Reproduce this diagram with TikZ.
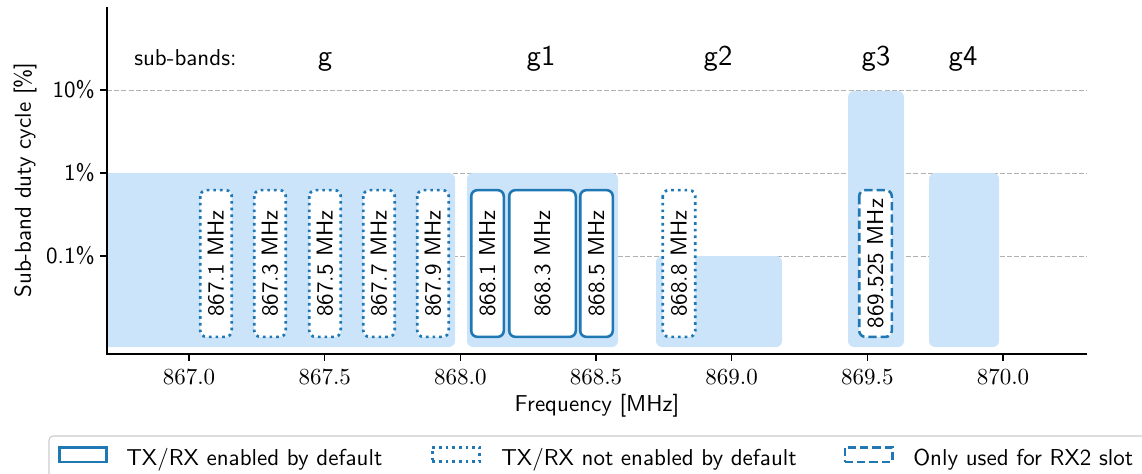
\documentclass[tikz,border=0pt]{standalone}
\usepackage{fontspec}
\newfontfamily\sansten{lmsans10-regular.otf}
\newfontfamily\romanten{lmroman10-regular.otf}
\definecolor{bandblue}{RGB}{204,228,250}
\definecolor{chanblue}{RGB}{31,119,180}
\definecolor{gridgray}{RGB}{176,176,176}
\definecolor{legendgray}{RGB}{204,204,204}
\newcommand\txtfont{\sansten\fontsize{17.25}{20}\selectfont}
\newcommand\numfont{\romanten\fontsize{17.25}{20}\selectfont}
\newcommand\bandfont{\sansten\fontsize{21.5}{25}\selectfont}
\begin{document}
\begin{tikzpicture}[x=0.75pt,y=-0.75pt,
  band/.style={fill=bandblue, rounded corners=4.5pt},
  gridline/.style={draw=gridgray, line width=0.6pt, dash pattern=on 3.8pt off 1.6pt},
  axisline/.style={draw=black, line width=0.8pt},
  chanbox/.style={draw=chanblue, fill=white, rounded corners=4.5pt, rotate=90,
    inner sep=0pt, minimum width=110pt, font=\txtfont},
  solidline/.style={line width=1.9pt},
  dotline/.style={line width=2pt, dash pattern=on 2pt off 3pt},
  dashline/.style={line width=1.9pt, dash pattern=on 6.2pt off 3pt},
  legicon/.style={draw=chanblue, fill=white, inner sep=0pt, minimum width=35.6pt, minimum height=10.9pt},
  ytick/.style={anchor=east, font=\txtfont, inner sep=0pt},
  xtick/.style={anchor=base, font=\numfont, inner sep=0pt},
  bandlabel/.style={anchor=base, font=\bandfont, inner sep=0pt},
  legtext/.style={anchor=base west, font=\txtfont, inner sep=0pt}]
\useasboundingbox (0,0) rectangle (1142,474);

% horizontal grid at 10%, 1% and 0.1%
\foreach \gy in {90,173,256} \draw[gridline] (107,\gy) -- (1087,\gy);

% sub-band duty-cycle bars
\begin{scope}
  \clip (107,0) rectangle (1087,354);
  \fill[band] (80,173) rectangle (455,347);
\end{scope}
\fill[band] (467,173) rectangle (618,347);
\fill[band] (656,256) rectangle (782,347);
\fill[band] (848,91) rectangle (904,347);
\fill[band] (929,173) rectangle (999,347);

% channels
\node[chanbox, dotline, minimum height=23.6pt] (c8671) at (216,263.5) {867.1 MHz};
\node[chanbox, dotline, minimum height=23.6pt] (c8673) at (270,263.5) {867.3 MHz};
\node[chanbox, dotline, minimum height=23.6pt] (c8675) at (325,263.5) {867.5 MHz};
\node[chanbox, dotline, minimum height=23.6pt] (c8677) at (379,263.5) {867.7 MHz};
\node[chanbox, dotline, minimum height=23.6pt] (c8679) at (433,263.5) {867.9 MHz};
\node[chanbox, solidline, minimum height=24.4pt] (c8681) at (487.5,263.5) {868.1 MHz};
\node[chanbox, solidline, minimum height=49.9pt] (c8683) at (542.5,263.5) {868.3 MHz};
\node[chanbox, solidline, minimum height=24.4pt] (c8685) at (596.5,263.5) {868.5 MHz};
\node[chanbox, dotline, minimum height=24.4pt] (c8688) at (679,263.5) {868.8 MHz};
\node[chanbox, dashline, minimum height=24.4pt] (c869525) at (875.5,263.5) {869.525 MHz};

% axes
\draw[axisline] (107,7) -- (107,354) -- (1087,354);
\foreach \gy/\lab [count=\i] in {90/10\%,173/1\%,256/0.1\%} {
  \draw[axisline] (100,\gy) -- (107,\gy);
  \node[ytick] (yt\i) at (95,\gy) {\lab};
}
\foreach \gx/\lab [count=\i] in {189/867.0,324.7/867.5,460.3/868.0,596/868.5,731.6/869.0,867.3/869.5,1003/870.0} {
  \draw[axisline] (\gx,354) -- (\gx,361);
  \node[xtick] (xt\i) at (\gx,384) {\lab};
}
\node[anchor=base, font=\txtfont, inner sep=0pt] (xlabel) at (597,411) {Frequency [MHz]};
\node[rotate=90, font=\txtfont, inner sep=0pt] (ylabel) at (25,180) {Sub-band duty cycle [\%]};

% sub-band names
\node[legtext] (sbtitle) at (134,66) {sub-bands:};
\node[bandlabel] (bg) at (325,66) {g};
\node[bandlabel] (bg1) at (541,66) {g1};
\node[bandlabel] (bg2) at (718,66) {g2};
\node[bandlabel] (bg3) at (876,66) {g3};
\node[bandlabel] (bg4) at (963,66) {g4};

% legend
\draw[draw=legendgray, line width=0.8pt, rounded corners=3pt, fill=white] (49,436) rectangle (1170,500);
\node[legicon, solidline] (lsolid) at (83,454.5) {};
\node[legtext] (lsolidtxt) at (126,465) {TX/RX enabled by default};
\node[legicon, dotline] (ldot) at (456,454.5) {};
\node[legtext] (ldottxt) at (501,465) {TX/RX not enabled by default};
\node[legicon, dashline] (ldash) at (868.5,454.5) {};
\node[legtext] (ldashtxt) at (913,465) {Only used for RX2 slot};
\end{tikzpicture}
\end{document}
